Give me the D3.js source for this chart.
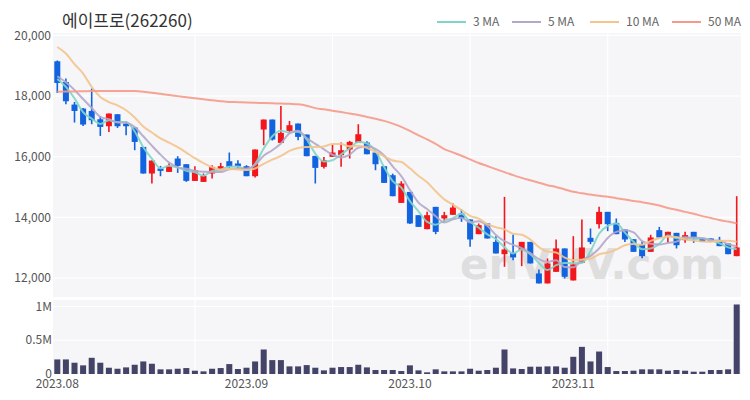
<!DOCTYPE html>
<html><head><meta charset="utf-8">
<script src="https://cdn.jsdelivr.net/npm/d3@7/dist/d3.min.js"></script>
<style>
html,body{margin:0;padding:0;background:#fff;}
svg{display:block;font-family:"Noto Sans CJK KR","Noto Sans",sans-serif;}
</style></head><body>
<svg id="chart" width="750" height="400"></svg>
<script>
const title = "에이프로(262260)";
const dates = [
 "2023-08-01","2023-08-02","2023-08-03","2023-08-04","2023-08-07","2023-08-08","2023-08-09","2023-08-10","2023-08-11","2023-08-14","2023-08-16","2023-08-17","2023-08-18","2023-08-21","2023-08-22","2023-08-23","2023-08-24","2023-08-25","2023-08-28","2023-08-29","2023-08-30","2023-08-31",
 "2023-09-01","2023-09-04","2023-09-05","2023-09-06","2023-09-07","2023-09-08","2023-09-11","2023-09-12","2023-09-13","2023-09-14","2023-09-15","2023-09-18","2023-09-19","2023-09-20","2023-09-21","2023-09-22","2023-09-25","2023-09-26","2023-09-27",
 "2023-10-04","2023-10-05","2023-10-06","2023-10-10","2023-10-11","2023-10-12","2023-10-13","2023-10-16","2023-10-17","2023-10-18","2023-10-19","2023-10-20","2023-10-23","2023-10-24","2023-10-25","2023-10-26","2023-10-27","2023-10-30","2023-10-31",
 "2023-11-01","2023-11-02","2023-11-03","2023-11-06","2023-11-07","2023-11-08","2023-11-09","2023-11-10","2023-11-13","2023-11-14","2023-11-15","2023-11-16","2023-11-17","2023-11-20","2023-11-21","2023-11-22","2023-11-23","2023-11-24","2023-11-27","2023-11-28"];
const open  = [19144,18462,17717,17585,17506,17233,17003,17398,17091,16960,16321,15444,15609,15497,15938,15751,15201,15168,15444,15553,15850,15774,15685,15355,16894,17223,16453,16849,17091,16729,16025,15663,15992,16047,16235,16453,16465,16136,15685,15388,14476,14838,14071,13610,14345,13962,14082,14126,13930,13445,13798,13190,12786,12830,12918,13190,12150,11821,12203,12974,11919,12502,13324,13774,14180,13817,13600,13280,13110,12862,13577,13380,13488,13247,13522,13303,13303,13247,13138,12720];
const high  = [19170,18574,17803,17600,18244,17332,17420,17400,17167,16960,16321,15872,15695,15784,16015,15751,15685,15444,15718,15794,16136,15883,15718,16235,17223,17223,17671,17177,17091,16729,16025,15992,16400,16465,16520,17068,16510,16136,15685,15440,15190,14838,14071,14180,14345,14180,14455,14258,13930,13798,13798,13379,14674,13435,13190,13190,12282,12645,13270,12974,13379,13929,13633,14345,14180,13962,13600,13280,13200,13425,13685,13522,13488,13522,13522,13303,13303,13357,13138,14697];
const low   = [18100,17727,17124,17012,17068,16683,16815,16947,16706,16212,15440,15115,15355,15497,15464,15168,15201,15168,15280,15553,15609,15609,15355,15313,16377,16531,16453,16783,16541,16014,15115,15609,15992,15663,15938,16453,16080,15553,15135,14696,14476,13780,13685,13610,13445,13850,14082,13850,13026,13445,13303,12809,12369,12588,12391,12480,11821,11821,12203,11985,11919,12502,13116,13633,13544,13445,13190,12862,12650,12862,13336,13159,12974,13159,13159,13191,13193,13050,12786,12720];
const close = [18429,17826,17506,17058,17200,16980,17420,17003,17003,16485,15444,15872,15530,15695,15695,15201,15553,15366,15663,15685,15663,15685,15355,16235,17223,16564,16783,17036,16651,16014,15630,15883,16136,16212,16487,16739,16080,15751,15135,14696,15115,13798,13685,14071,13520,14071,14323,13962,13270,13741,13303,12809,12940,12677,13190,12480,11821,12480,12974,12040,12447,13007,13191,14180,13774,13445,13270,12862,12720,13336,13336,13522,13081,13412,13336,13191,13193,13050,12786,13007];
const volume = [216000,216000,167000,128000,240000,167000,93000,78000,98000,137000,186000,152000,69000,69000,78000,88000,49000,39000,78000,88000,147000,74000,93000,186000,363000,206000,206000,113000,113000,132000,93000,54000,93000,103000,103000,137000,98000,59000,59000,59000,44000,128000,54000,25000,69000,39000,39000,39000,78000,49000,59000,93000,363000,83000,74000,108000,108000,113000,113000,93000,255000,402000,186000,333000,103000,44000,44000,49000,69000,69000,69000,49000,59000,49000,34000,34000,59000,59000,69000,1030000];
// leading moving-average values (earlier sessions are off-chart)
const ma3Head  = [18560,18300];
const ma5Head  = [18650,18450,18200,17900];
const ma10Head = [19615,19400,19050,18740,18300,17970,17800,17690,17530];
const ma50 = [18140,18150,18150,18155,18160,18160,18160,18165,18165,18160,18140,18110,18070,18030,17995,17960,17925,17890,17860,17830,17805,17795,17785,17775,17770,17760,17750,17740,17725,17680,17600,17560,17515,17470,17420,17370,17310,17250,17180,17090,16980,16850,16700,16570,16420,16250,16140,16030,15910,15790,15690,15590,15490,15390,15300,15220,15140,15060,15000,14920,14840,14790,14750,14710,14675,14630,14590,14540,14500,14450,14390,14310,14250,14180,14120,14040,13980,13910,13860,13800];
const priceTicks = [12000,14000,16000,18000,20000];
const volTicks = [0,500000,1000000];
const volTickLabels = ["0","0.5M","1M"];
const monthTicks = [{d:"2023-08-01",label:"2023.08"},{d:"2023-09-01",label:"2023.09"},{d:"2023-10-04",label:"2023.10"},{d:"2023-11-01",label:"2023.11"}];
const gridDates = ["2023-08-24","2023-09-15","2023-10-16","2023-11-07"];
const maNames = ["3 MA","5 MA","10 MA","50 MA"];
const maColors = ["#7fd6c6","#b4a7ca","#f3c48c","#f59a8a"];

function rolling(arr, n, head){
  return arr.map((v,i)=> i < n-1 ? head[i] : d3.mean(arr.slice(i-n+1,i+1)));
}
const ma3 = rolling(close,3,ma3Head), ma5 = rolling(close,5,ma5Head), ma10 = rolling(close,10,ma10Head);
const maSeries = [ma3,ma5,ma10,ma50];

const svg = d3.select("#chart");
const L=53, R=741, pTop=33, pBot=297, vTop=300, vBot=374;
const x = d3.scaleBand().domain(dates).range([L,R]).paddingInner(0.3).paddingOuter(0.15);
const y = d3.scaleLinear().domain([12000,20000]).range([278,35.3]);
const yv = d3.scaleLinear().domain([0,1000000]).range([vBot,306.5]);
const cx = d => x(d)+x.bandwidth()/2;

const defs = svg.append("defs");
defs.append("clipPath").attr("id","pc").append("rect").attr("x",L).attr("y",pTop).attr("width",R-L).attr("height",pBot-pTop);

// panels
svg.append("rect").attr("x",L).attr("y",pTop).attr("width",R-L).attr("height",pBot-pTop).attr("fill","#f6f6f8");
svg.append("rect").attr("x",L).attr("y",vTop).attr("width",R-L).attr("height",vBot-vTop).attr("fill","#f6f6f8");
// grid
const g = svg.append("g").attr("stroke","#ffffff").attr("stroke-width",1.2);
priceTicks.forEach(t=> g.append("line").attr("x1",L).attr("x2",R).attr("y1",y(t)).attr("y2",y(t)));
volTicks.slice(1).forEach(t=> g.append("line").attr("x1",L).attr("x2",R).attr("y1",yv(t)).attr("y2",yv(t)));
gridDates.forEach(d=>{
  g.append("line").attr("x1",cx(d)).attr("x2",cx(d)).attr("y1",pTop).attr("y2",pBot);
  g.append("line").attr("x1",cx(d)).attr("x2",cx(d)).attr("y1",vTop).attr("y2",vBot);
});

// watermark
svg.append("text").attr("x",460).attr("y",279).text("enVVV.com")
  .attr("font-family","'DejaVu Sans', sans-serif").attr("font-weight",700).attr("font-size",42)
  .attr("fill","#d9d9d9").attr("opacity",0.8);

// candles
const up="#f2161d", dn="#1263e0";
const cg = svg.append("g").attr("clip-path","url(#pc)");
dates.forEach((d,i)=>{
  const col = close[i] >= open[i] ? up : dn;
  cg.append("line").attr("x1",cx(d)).attr("x2",cx(d)).attr("y1",y(high[i])).attr("y2",y(low[i]))
    .attr("stroke",col).attr("stroke-width",1.6);
  const yt = y(Math.max(open[i],close[i])), yb = y(Math.min(open[i],close[i]));
  cg.append("rect").attr("x",x(d)).attr("width",x.bandwidth()).attr("y",yt).attr("height",Math.max(1.5,yb-yt)).attr("fill",col);
});

// moving averages
const line = d3.line().x((v,i)=>cx(dates[i])).y(v=>y(v)).curve(d3.curveMonotoneX);
maSeries.forEach((s,k)=>{
  cg.append("path").attr("d",line(s)).attr("fill","none").attr("stroke",maColors[k]).attr("stroke-width",2).attr("opacity",0.9);
});

// volume
svg.append("g").selectAll("rect").data(volume).join("rect")
  .attr("x",(v,i)=>x(dates[i])).attr("width",x.bandwidth())
  .attr("y",v=>yv(v)).attr("height",v=>vBot-yv(v)).attr("fill","#444468");

// axes labels
const lab = svg.append("g").attr("fill","#555").attr("font-size",12).attr("text-anchor","end");
priceTicks.forEach(t=> lab.append("text").attr("x",51).attr("y",y(t)).attr("dy","0.35em").text(d3.format(",")(t)));
volTicks.forEach((t,i)=> lab.append("text").attr("x",52).attr("y",yv(t)).attr("dy","0.35em").text(volTickLabels[i]));
const xl = svg.append("g").attr("fill","#555").attr("font-size",12).attr("text-anchor","middle");
monthTicks.forEach(m=> xl.append("text").attr("x",cx(m.d)).attr("y",388).text(m.label));

// title
svg.append("text").attr("x",62).attr("y",27).attr("font-size",17).attr("fill","#333").text(title);

// legend
const lg = svg.append("g").attr("font-size",12).attr("fill","#666");
const lx = [437,512,590,672];
maNames.forEach((n,k)=>{
  lg.append("line").attr("x1",lx[k]).attr("x2",lx[k]+29).attr("y1",22).attr("y2",22).attr("stroke",maColors[k]).attr("stroke-width",2);
  lg.append("text").attr("x",lx[k]+36).attr("y",22).attr("dy","0.35em").text(n);
});
</script>
</body></html>
